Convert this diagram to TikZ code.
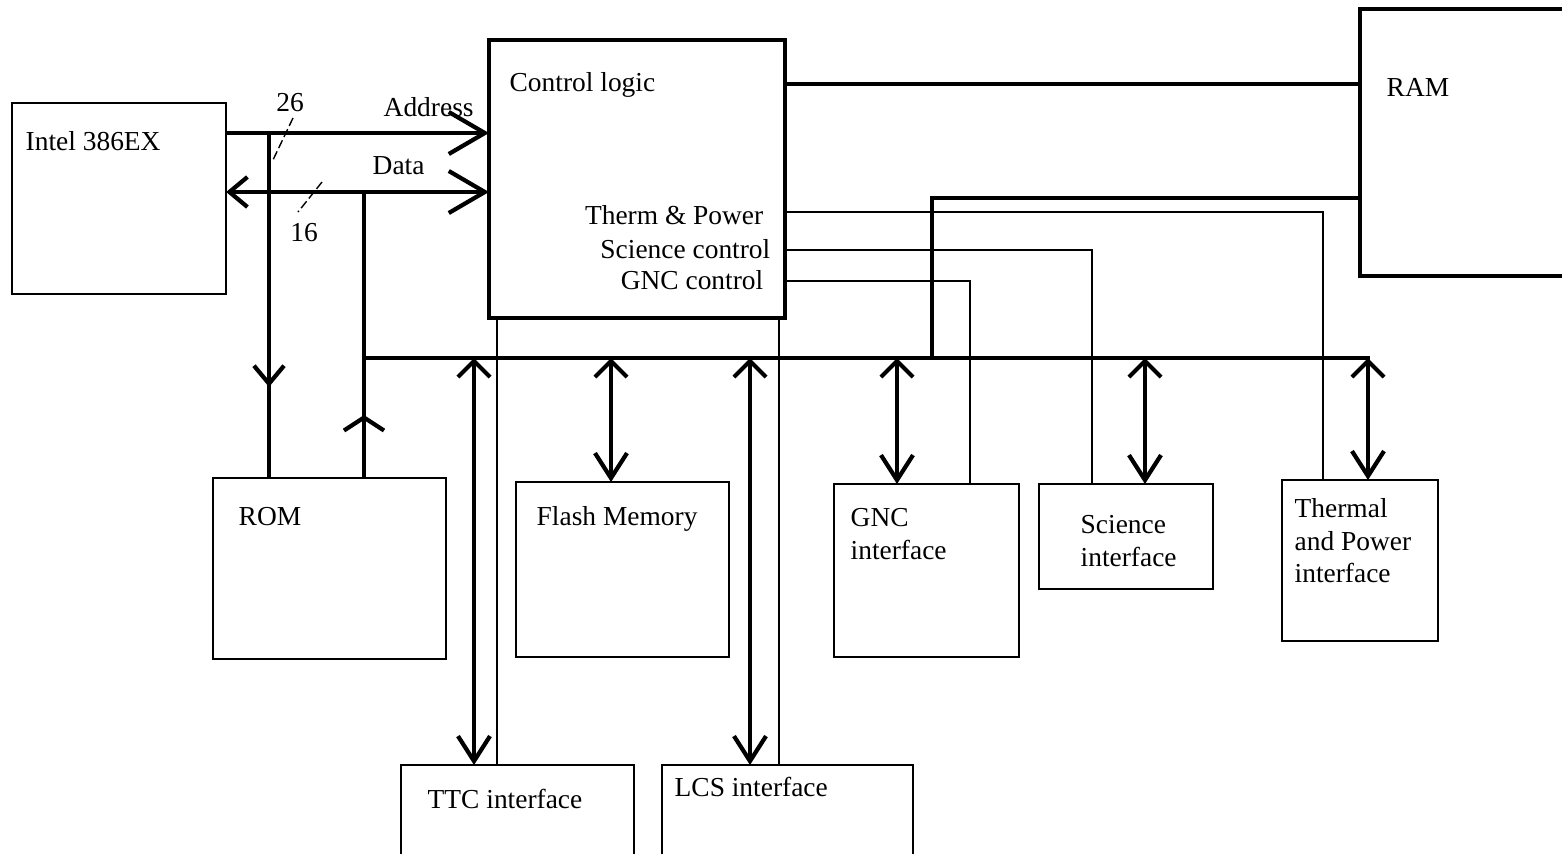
\documentclass[tikz,border=0pt]{standalone}
\usepackage{fontspec}
\setmainfont{Liberation Serif}
\usetikzlibrary{arrows.meta,positioning,calc}

\tikzset{
  addrtip/.tip={Straight Barb[length=3.6mm,width=4.2mm]},
  endtip/.tip={Straight Barb[length=1.8mm,width=3mm]},
  toptip/.tip={Straight Barb[length=1.6mm,width=3.2mm]},
  bottip/.tip={Straight Barb[length=2.5mm,width=3.2mm]},
  flattip/.tip={Straight Barb[length=1.3mm,width=4mm]}
}

\begin{document}
\begin{tikzpicture}[
  x=0.01cm, y=-0.01cm,
  font=\fontsize{7.8pt}{9.2pt}\selectfont,
  blk/.style={draw, rectangle, line width=0.45pt, inner sep=0pt, outer sep=0pt, anchor=north west},
  mainblk/.style={blk, line width=1.2pt},
  txt/.style={inner sep=0pt, anchor=west, align=left},
  bus/.style={line width=1.2pt},
  wire/.style={line width=0.45pt},
  tick/.style={line width=0.4pt, dash pattern=on 2.5pt off 1pt}
]
\clip (0,0) rectangle (1562,854);

\node[blk, minimum width=2.14cm, minimum height=1.91cm] (intel) at (12,103) {};
\node[mainblk, minimum width=2.96cm, minimum height=2.78cm] (ctrl) at (489,40) {};
\node[mainblk, minimum width=2.6cm, minimum height=2.67cm] (ram) at (1360,9) {};
\node[blk, minimum width=2.33cm, minimum height=1.81cm] (rom) at (213,478) {};
\node[blk, minimum width=2.13cm, minimum height=1.75cm] (flash) at (516,482) {};
\node[blk, minimum width=1.85cm, minimum height=1.73cm] (gnc) at (834,484) {};
\node[blk, minimum width=1.74cm, minimum height=1.05cm] (sci) at (1039,484) {};
\node[blk, minimum width=1.56cm, minimum height=1.61cm] (therm) at (1282,480) {};
\node[blk, minimum width=2.33cm, minimum height=1.5cm] (ttc) at (401,765) {};
\node[blk, minimum width=2.51cm, minimum height=1.5cm] (lcs) at (662,765) {};

\node[txt] (intellbl) at (25,141) {Intel 386EX};
\node[txt] (ctrllbl) at (509,85) {Control logic};
\node[txt, anchor=east] (thermsig) at (764,215) {Therm \& Power};
\node[txt, anchor=east] (scisig) at (771,249) {Science control};
\node[txt, anchor=east] (gncsig) at (764,280) {GNC control};
\node[txt] (ramlbl) at (1386,87) {RAM};
\node[txt] (romlbl) at (238,517) {ROM};
\node[txt] (flashlbl) at (536,519) {Flash Memory};
\node[txt, anchor=north west] (gnclbl) at (850,508) {GNC\\interface};
\node[txt, anchor=north west] (scilbl) at (1080,515) {Science\\interface};
\node[txt, anchor=north west] (thermlbl) at (1294,498) {Thermal\\and Power\\interface};
\node[txt] (ttclbl) at (427,799) {TTC interface};
\node[txt] (lcslbl) at (674,787) {LCS interface};

\node[txt] (addrlbl) at (383,107) {Address};
\node[txt] (datalbl) at (372,166) {Data};
\node[inner sep=0pt] (addrw) at (290,103) {26};
\node[inner sep=0pt] (dataw) at (304,233) {16};

\coordinate (addr) at (0,133);
\coordinate (data) at (0,192);
\coordinate (sysbus) at (0,358);

\draw[bus, -addrtip] (intel.east |- addr) -- (ctrl.west |- addr);
\draw[bus, endtip-addrtip] (intel.east |- data) -- (ctrl.west |- data);
\draw[tick] (293,118) -- (273,160);
\draw[tick] (322,182) -- (298,212);

\draw[bus] (269,133) -- (rom.north -| 269,0);
\draw[bus, -endtip] (269,133) -- (269,387);
\draw[bus] (364,192) -- (rom.north -| 364,0);
\draw[bus, -flattip] (rom.north -| 364,0) -- (364,415);
\draw[bus] (364,358) -- (1370,358);

\foreach \x/\blk in {474/ttc, 611/flash, 750/lcs, 897/gnc, 1145/sci, 1368/therm}
  \draw[bus, toptip-bottip] (\x,358) -- (\blk.north -| \x,0);

\draw[wire] (ctrl.south -| 497,0) -- (ttc.north -| 497,0);
\draw[wire] (ctrl.south -| 779,0) -- (lcs.north -| 779,0);

\draw[bus] (ctrl.east |- 0,84) -- (ram.west |- 0,84);
\draw[bus] (ram.west |- 0,198) -- (932,198) -- (932,358);

\draw[wire] (ctrl.east |- 0,212) -- (1323,212) -- (therm.north -| 1323,0);
\draw[wire] (ctrl.east |- 0,250) -- (1092,250) -- (sci.north -| 1092,0);
\draw[wire] (ctrl.east |- 0,281) -- (970,281) -- (gnc.north -| 970,0);
\end{tikzpicture}
\end{document}
